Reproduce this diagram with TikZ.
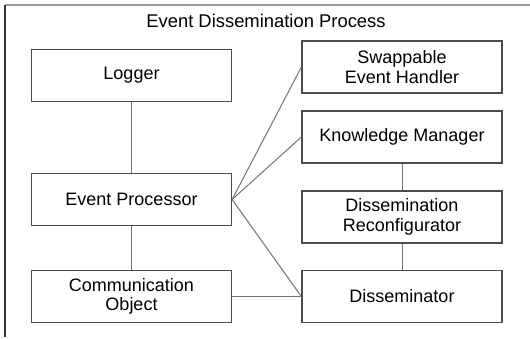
\documentclass[tikz,border=0pt]{standalone}
\usepackage{fontspec}
\setmainfont{Liberation Sans}
\begin{document}
\begin{tikzpicture}[x=0.5pt,y=-0.5pt,
		box/.style={draw=black!70,line width=0.6pt,rectangle,minimum width=100pt,minimum height=26pt,align=center,font=\fontsize{9}{9.8}\selectfont,inner sep=1pt},
		link/.style={draw=black!55,line width=0.5pt}]
			\useasboundingbox (0,0) rectangle (530,338);
			\draw[black!40,line width=1pt] (5,4.5) -- (540,4.5);
			\draw[black!80,line width=0.8pt] (5,4.5) -- (5,337);
			\node[font=\fontsize{9.2}{10}\selectfont] (title) at (266,21) {Event Dissemination Process};
			\node[box] (logger) at (131.5,75.5) {Logger};
			\node[box] (ep) at (131.5,199.5) {Event Processor};
			\node[box] (co) at (131.5,296.5) {Communication\\Object};
			\node[box] (seh) at (402,67) {Swappable\\Event Handler};
			\node[box] (km) at (402,137) {Knowledge Manager};
			\node[box] (dr) at (402,217) {Dissemination\\Reconfigurator};
			\node[box] (dis) at (402,296.5) {Disseminator};
			\draw[link] (logger) to (ep);
			\draw[link] (ep) to (co);
			\draw[link] (ep.east) to (seh.west);
			\draw[link] (ep.east) to (km.west);
			\draw[link] (ep.east) to (dis.west);
			\draw[link] (co) to (dis);
			\draw[link] (km) to (dr);
			\draw[link] (dr) to (dis);
		\end{tikzpicture}
\end{document}
